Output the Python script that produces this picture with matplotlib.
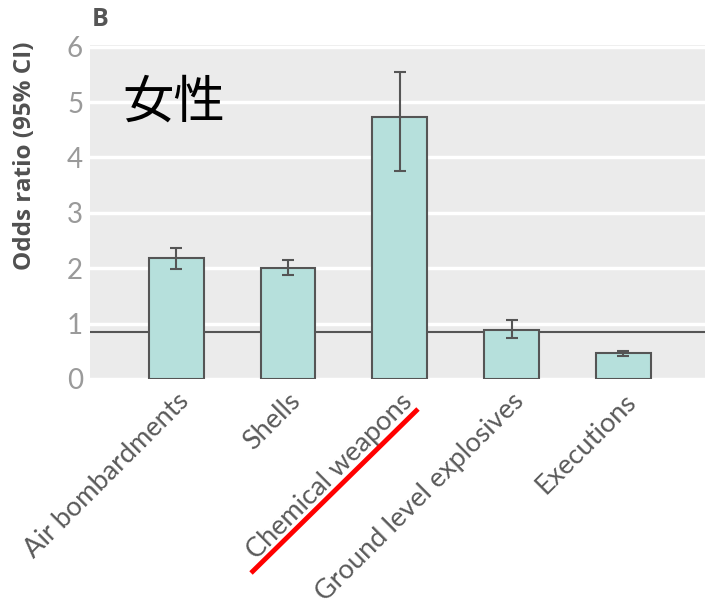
import matplotlib
matplotlib.use('Agg')
import matplotlib.pyplot as plt
from matplotlib.lines import Line2D
import numpy as np

# ============================================
# DATA
# ============================================
categories = ['Air bombardments', 'Shells', 'Chemical weapons',
              'Ground level explosives', 'Executions']
odds_ratio = [2.19, 2.00, 4.74, 0.89, 0.47]
ci_low = [1.99, 1.88, 3.76, 0.74, 0.42]
ci_high = [2.37, 2.15, 5.55, 1.07, 0.51]
ref_level = 0.85
yticks = [0, 1, 2, 3, 4, 5, 6]

# ============================================
# STYLE
# ============================================
bg_gray = '#ebebeb'
bar_color = '#b6e0dc'
edge_color = '#555555'
tick_color = '#9a9a9a'
label_color = '#505050'

fig = plt.figure(figsize=(7.05, 6.06), dpi=100)
fig.patch.set_facecolor('#FFFFFF')
ax = fig.add_axes([0.1277, 0.3746, 0.8723, 0.551])
ax.set_facecolor(bg_gray)

x = np.arange(len(categories))
yerr = [np.array(odds_ratio) - np.array(ci_low),
        np.array(ci_high) - np.array(odds_ratio)]

# grid
ax.set_axisbelow(True)
ax.yaxis.grid(True, color='#FFFFFF', linewidth=2.5)
ax.xaxis.grid(False)

# reference line (behind bars)
ax.axhline(ref_level, color=edge_color, linewidth=1.5, zorder=2)

ax.bar(x, odds_ratio, width=0.49, color=bar_color,
       edgecolor=edge_color, linewidth=1.5, zorder=3)
ax.errorbar(x, odds_ratio, yerr=yerr, fmt='none', ecolor=edge_color,
            elinewidth=1.5, capsize=4, capthick=1.5, zorder=4)

ax.set_xlim(-0.77, 4.73)
ax.set_ylim(0, 6.03)
ax.set_yticks(yticks)
ax.set_yticklabels([str(t) for t in yticks], fontsize=20,
                   color=tick_color, family='Lato')
ax.set_xticks(x)
ax.set_xticklabels(categories, rotation=45, ha='right',
                   rotation_mode='anchor', fontsize=19.5,
                   color='#5a5a5a', family='Lato')
ax.tick_params(axis='both', length=0)
ax.tick_params(axis='y', pad=5)
ax.tick_params(axis='x', pad=7)
for s in ax.spines.values():
    s.set_visible(False)

# axis label
fig.text(25 / 705, 1 - 156 / 606, 'Odds ratio (95% CI)', rotation=90,
         fontsize=17.5, fontweight='bold', color=label_color,
         ha='center', va='center', family='Open Sans')

# panel letter
fig.text(92 / 705, 1 - 19 / 606, 'B', fontsize=18, fontweight='bold',
         color='#555555', va='center', ha='left', family='Open Sans')

# Japanese annotation
ax.text(0.052, 0.828, '女性', transform=ax.transAxes, fontsize=37,
        color='black', ha='left', va='center',
        family=['Noto Sans CJK JP', 'DejaVu Sans'])

# red underline annotation
fig.add_artist(Line2D([251 / 705, 418 / 705], [1 - 573 / 606, 1 - 409 / 606],
                      transform=fig.transFigure, color='#ff0000',
                      linewidth=3.5, solid_capstyle='butt'))

fig.savefig('out.png', dpi=100, facecolor='#FFFFFF')
